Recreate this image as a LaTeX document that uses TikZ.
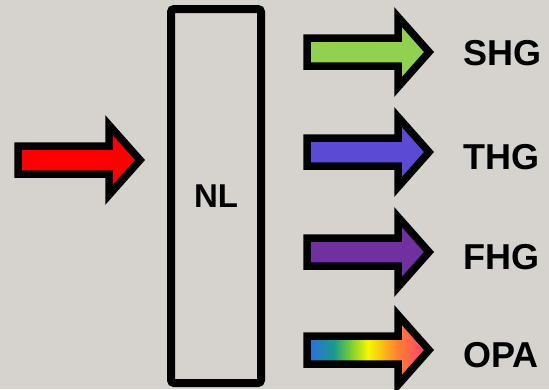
\documentclass[tikz,border=0pt]{standalone}
\usepackage{fontspec}
\setmainfont{Liberation Sans}

\definecolor{bg}{RGB}{214,210,206}
\definecolor{pump}{RGB}{255,0,0}
\definecolor{shg}{RGB}{146,208,80}
\definecolor{thg}{RGB}{90,74,212}
\definecolor{fhg}{RGB}{112,48,160}
\definecolor{opablue}{RGB}{46,110,226}
\definecolor{opateal}{RGB}{26,154,138}
\definecolor{opagreen}{RGB}{110,200,60}
\definecolor{opayellow}{RGB}{248,246,0}
\definecolor{opaorange}{RGB}{255,128,48}
\definecolor{opapink}{RGB}{255,72,106}

% rainbow fill of the broadband output arrow
\pgfdeclarehorizontalshading{opa}{100bp}{%
  color(0bp)=(opablue); color(26bp)=(opablue); color(36bp)=(opateal);
  color(42bp)=(opagreen); color(50bp)=(opayellow); color(62bp)=(opaorange);
  color(72bp)=(opapink); color(100bp)=(opapink)}

\tikzset{
  fatarrow/.pic={
    \path[pic actions] (0,-14) -- (91,-14) -- (91,-35) -- (122,0)
      -- (91,35) -- (91,14) -- (0,14) -- cycle;
  },
  beam/.style={draw=black, line width=7.5pt, line join=miter, miter limit=10},
  label/.style={anchor=west, inner sep=0pt,
    font=\fontsize{36}{40}\selectfont\bfseries},
}

\begin{document}
\begin{tikzpicture}[x=1pt, y=-1pt]
  \fill[bg] (0,0) rectangle (549,389);
  \useasboundingbox (0,0) rectangle (549,389);

  % nonlinear crystal
  \node[draw, line width=8pt, rounded corners=3pt, minimum width=90pt,
        minimum height=374pt, inner sep=0pt,
        font=\fontsize{33}{36}\selectfont\bfseries] (nl) at (216,196) {NL};

  % input pump
  \pic[beam, fill=pump] at (18,160) {fatarrow};

  % generated outputs
  \pic[beam, fill=shg] at (307,52) {fatarrow};
  \pic[beam, fill=thg] at (307,152) {fatarrow};
  \pic[beam, fill=fhg] at (307,252) {fatarrow};
  \pic[beam, shade, shading=opa] at (307,350) {fatarrow};

  \node[label] (shgl) at (463,53) {SHG};
  \node[label] (thgl) at (463,157) {THG};
  \node[label] (fhgl) at (463,257) {FHG};
  \node[label] (opal) at (463,355) {OPA};
\end{tikzpicture}
\end{document}
